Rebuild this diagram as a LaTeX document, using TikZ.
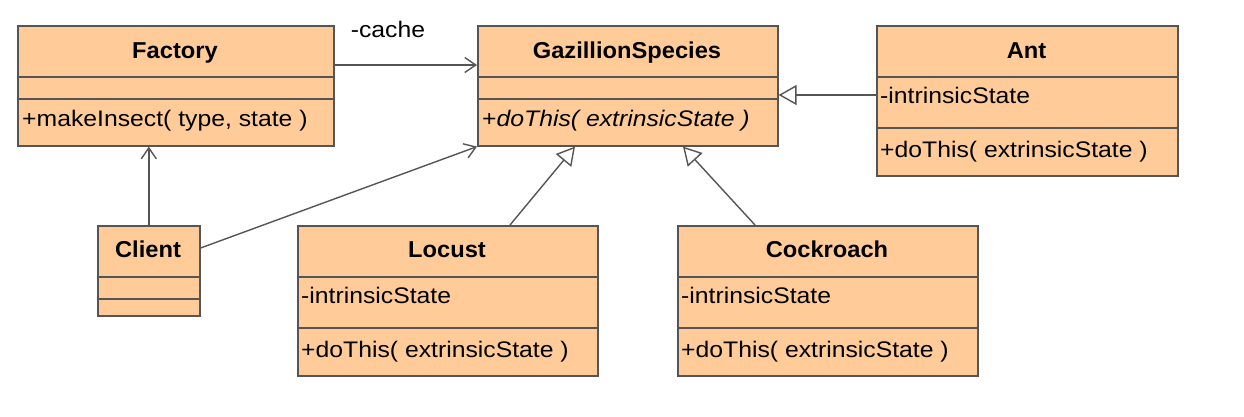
\documentclass[tikz,border=0pt]{standalone}
\usepackage{fontspec}
\setmainfont{Liberation Sans}[FakeStretch=1.1]
\newfontfamily\ttlfam{Liberation Sans}[FakeStretch=1.03]
\usetikzlibrary{arrows.meta,calc}
\definecolor{peach}{RGB}{255,204,153}
\definecolor{edge}{RGB}{85,85,85}
\newcommand{\txtfont}{\fontsize{22.5}{26}\selectfont}
\newcommand{\ttlfont}{\ttlfam\fontsize{23}{26}\selectfont\bfseries}
\tikzset{
  cls/.style={draw=edge, fill=peach, line width=1.6pt, inner sep=0pt, anchor=north west},
  sep/.style={draw=edge, line width=1.6pt},
  ttl/.style={font=\ttlfont, anchor=base, inner sep=0pt},
  mem/.style={font=\txtfont, anchor=base west, inner sep=0pt},
  lbl/.style={font=\txtfont, anchor=base, inner sep=0pt},
  conn/.style={draw=edge, line width=1.4pt},
  assoc/.style={conn, -{Straight Barb[length=11pt,width=15pt,line width=1.4pt]}},
  inh/.style={conn, -{Triangle[open, length=18pt, width=20pt, fill=white, line width=1.4pt]}}
}
\begin{document}
\begin{tikzpicture}[x=1pt,y=-1pt]
\useasboundingbox[fill=white] (0,0) rectangle (1244,416);

% Factory
\node[cls, minimum width=316pt, minimum height=120pt] (fac) at (17,25) {};
\draw[sep] (17,77) -- (333,77);
\draw[sep] (17,99) -- (333,99);
\node[ttl] (facT) at (175,58) {Factory};
\node[mem] (facO) at (22,126) {+makeInsect( type, state )};

% GazillionSpecies
\node[cls, minimum width=300pt, minimum height=120pt] (gaz) at (477,25) {};
\draw[sep] (477,77) -- (777,77);
\draw[sep] (477,99) -- (777,99);
\node[ttl] (gazT) at (627,58) {GazillionSpecies};
\node[mem] (gazO) at (482,126) {+\textit{doThis( extrinsicState )}};

% Ant
\node[cls, minimum width=301pt, minimum height=150pt] (ant) at (876,25) {};
\draw[sep] (876,77) -- (1177,77);
\draw[sep] (876,128) -- (1177,128);
\node[ttl] (antT) at (1026.5,58) {Ant};
\node[mem] (antA) at (880,103) {-intrinsicState};
\node[mem] (antO) at (880,157) {+doThis( extrinsicState )};

% Client
\node[cls, minimum width=102pt, minimum height=90pt] (cli) at (97,225) {};
\draw[sep] (97,277) -- (199,277);
\draw[sep] (97,299) -- (199,299);
\node[ttl] (cliT) at (148,257) {Client};

% Locust
\node[cls, minimum width=300pt, minimum height=150pt] (loc) at (297,225) {};
\draw[sep] (297,277) -- (597,277);
\draw[sep] (297,328) -- (597,328);
\node[ttl] (locT) at (447,257) {Locust};
\node[mem] (locA) at (301,303) {-intrinsicState};
\node[mem] (locO) at (301,357) {+doThis( extrinsicState )};

% Cockroach
\node[cls, minimum width=300pt, minimum height=150pt] (coc) at (677,225) {};
\draw[sep] (677,277) -- (977,277);
\draw[sep] (677,328) -- (977,328);
\node[ttl] (cocT) at (827,257) {Cockroach};
\node[mem] (cocA) at (681,303) {-intrinsicState};
\node[mem] (cocO) at (681,357) {+doThis( extrinsicState )};

% connectors
\coordinate (facR) at ($(fac.north east)+(0,40)$);
\draw[assoc] (facR) -- (facR -| gaz.west);
\node[lbl] (cache) at (388,37) {-cache};

\draw[assoc] (cli.north) -- (cli.north |- fac.south);
\draw[assoc] ($(cli.north east)+(0,23)$) -- (gaz.south west);

\coordinate (antL) at ($(ant.north west)+(0,70)$);
\draw[inh] (antL) -- (antL -| gaz.east);

\draw[inh] ($(loc.north west)+(213,0)$) -- ($(gaz.south west)+(98,0)$);
\draw[inh] ($(coc.north west)+(78,0)$) -- ($(gaz.south west)+(206,0)$);
\end{tikzpicture}
\end{document}
